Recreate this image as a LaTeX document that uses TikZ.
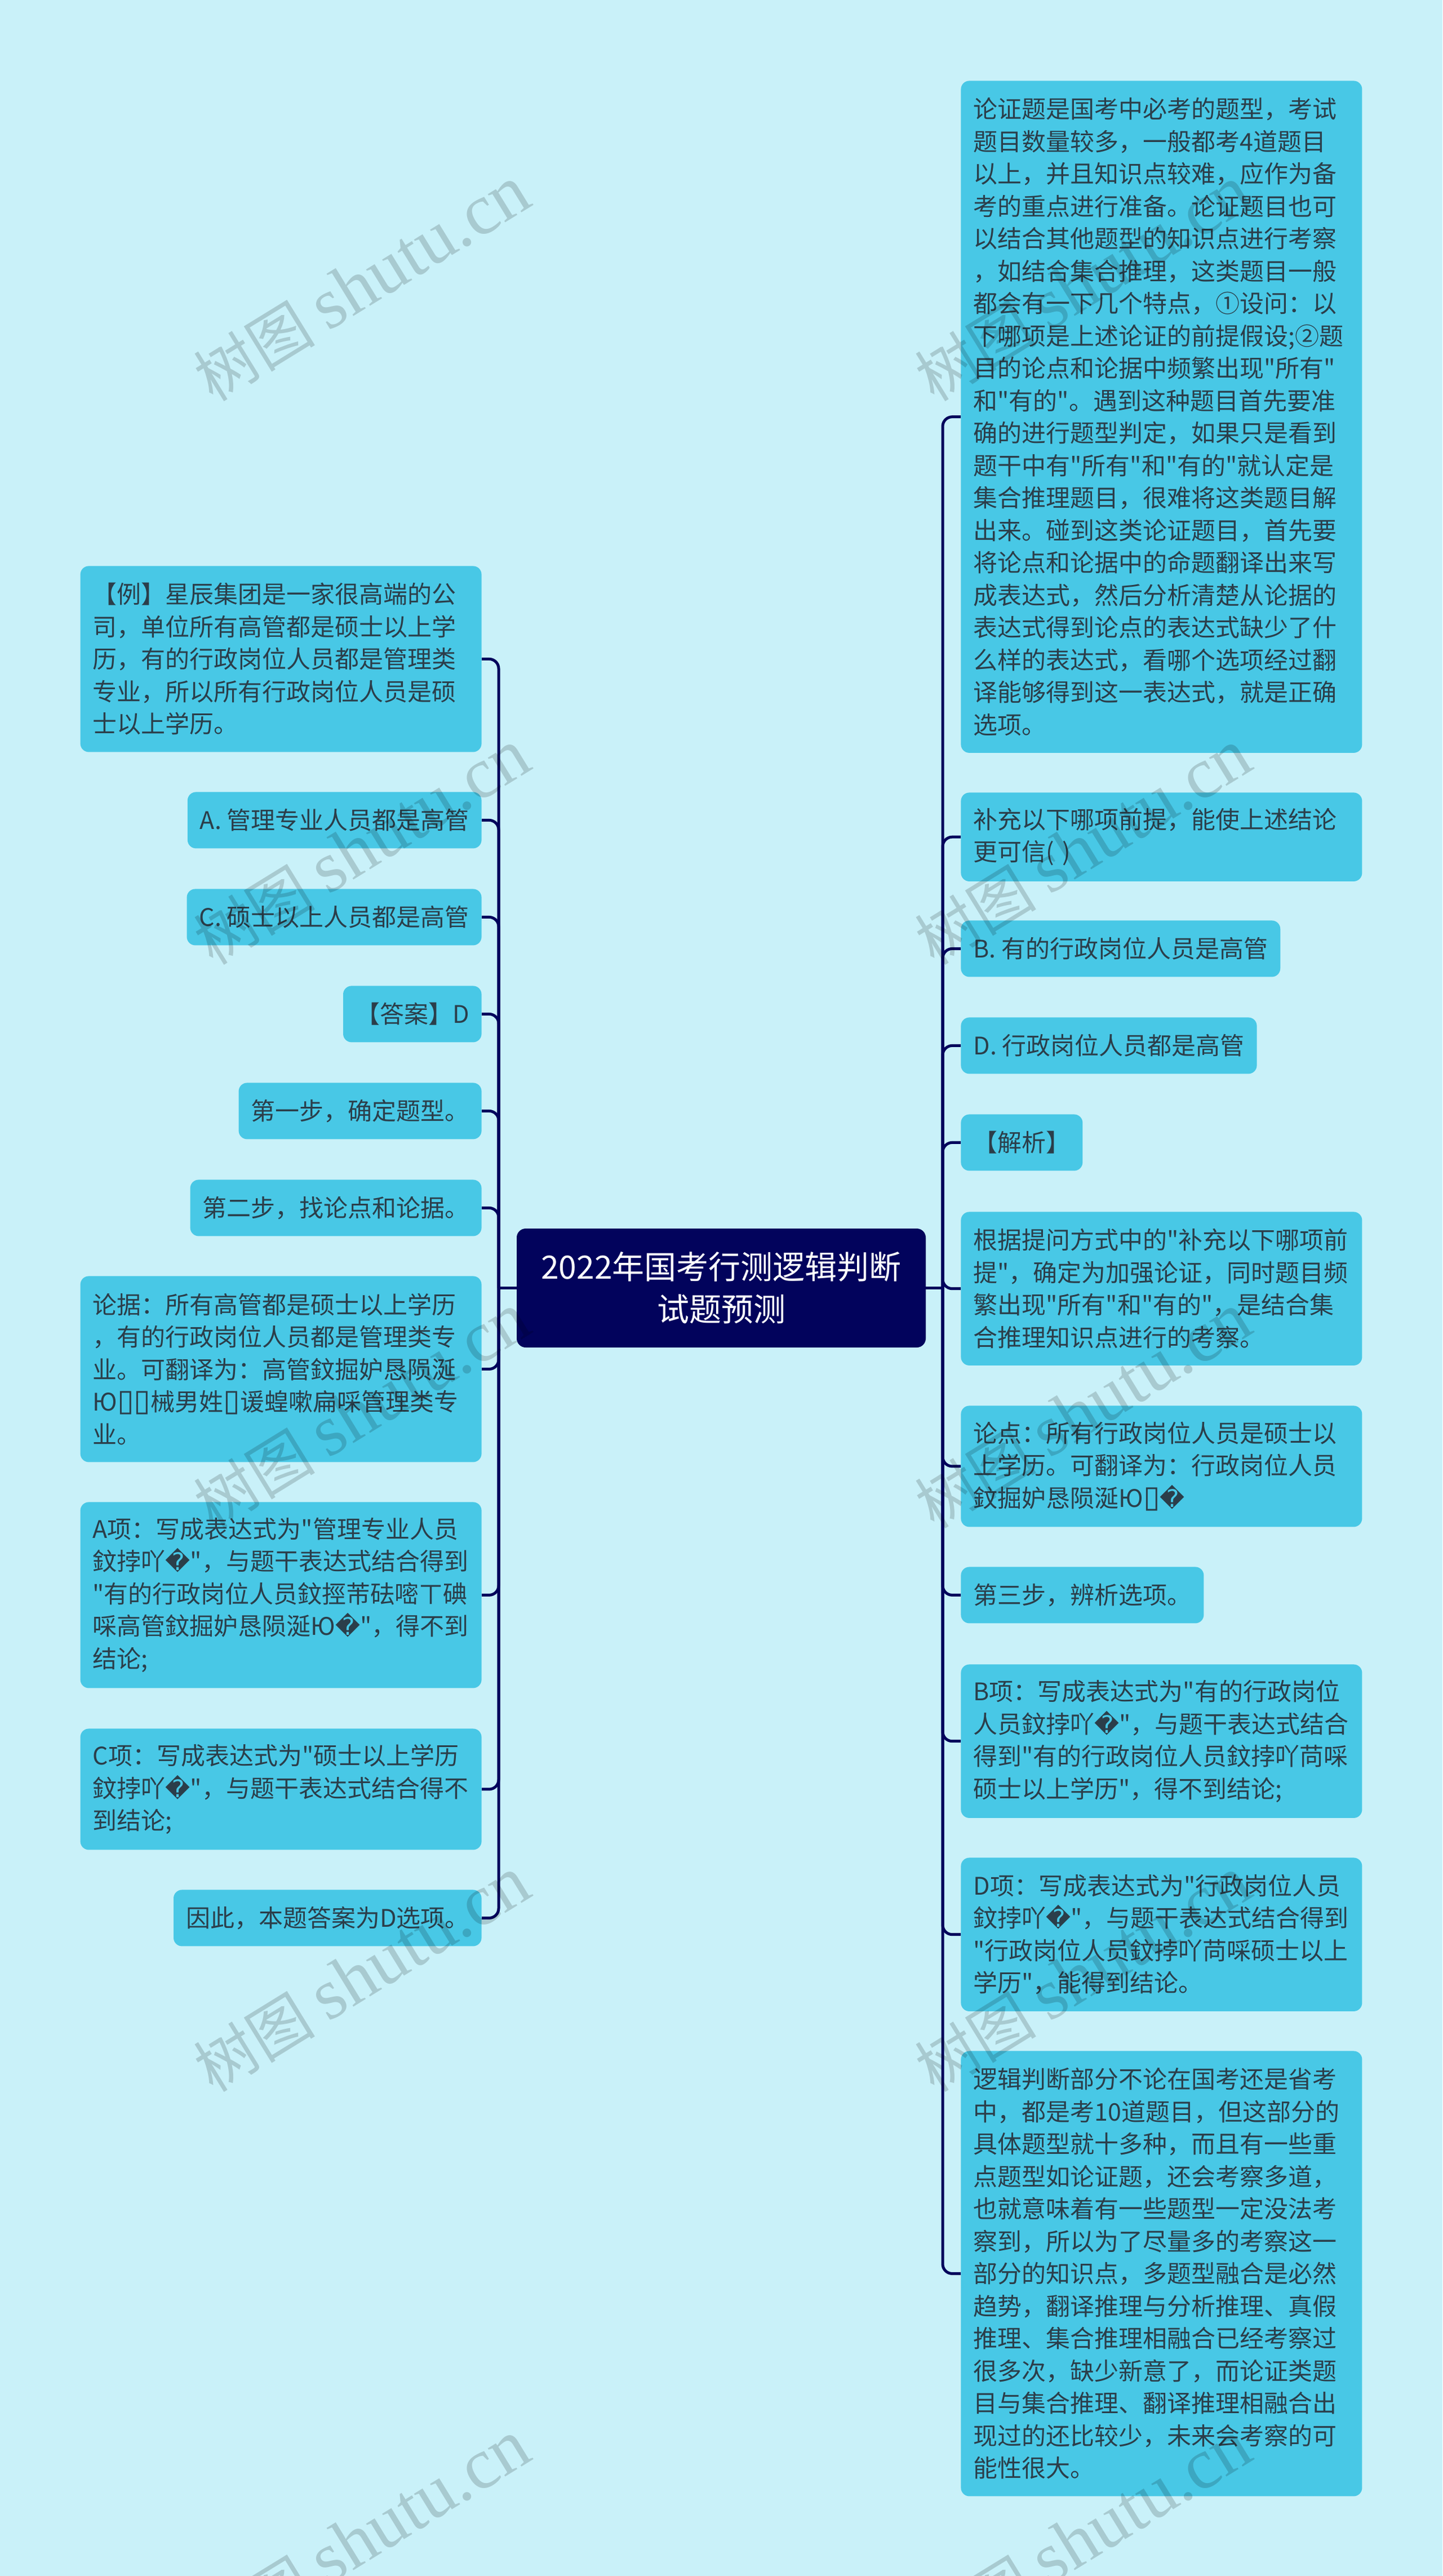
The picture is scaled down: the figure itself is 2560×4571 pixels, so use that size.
\documentclass[tikz,border=0pt]{standalone}
\usepackage{fontspec}
\setmainfont[Ligatures=TeXOff]{Noto Sans CJK SC}
\newfontfamily\symfont{DejaVu Sans}
\newfontfamily\latinmark{Liberation Serif}
\newcommand{\badch}{{\symfont\char"FFFD}}
\newcommand{\tofu}{{\symfont\fontsize{27pt}{28.75pt}\selectfont\char"25AF}}
\definecolor{pagebg}{HTML}{C9F1F9}
\definecolor{leafbg}{HTML}{48C8E6}
\definecolor{rootbg}{HTML}{02035C}
\definecolor{leafink}{HTML}{2B3E4A}
\tikzset{
  leaf/.style={fill=leafbg, text=leafink, rounded corners=7.5pt, inner xsep=11pt, inner ysep=0pt,
    align=left, font=\fontsize{21.5pt}{28.75pt}\selectfont},
  wide/.style={text width=334pt},
  rows/.style={minimum height=#1*28.75pt+21.25pt},
  link/.style={draw=rootbg, line width=2.5pt, rounded corners=8.5pt},
  wmark/.style={text=black, text opacity=.16, rotate=31.6, inner sep=0pt, font=\fontsize{54pt}{63pt}\selectfont}
}
\begin{document}
\begin{tikzpicture}[x=0.5pt,y=-0.5pt]
  \path[use as bounding box, fill=pagebg] (0,0) rectangle (2560,4571);
  \clip (0,0) rectangle (2560,4571);

  \node[fill=rootbg, text=white, rounded corners=8pt, minimum width=363pt, minimum height=105.5pt, inner sep=0pt,
    align=center, font=\fontsize{28.5pt}{37.5pt}\selectfont] (root) at (1280,2285.5)
    {2022年国考行测逻辑判断\\试题预测};
  \coordinate (lhub) at (885,2285.5);
  \coordinate (rhub) at (1673,2285.5);

  % left side
  \node[leaf, rows=5, wide, anchor=north east] (l1) at (855,1004) {【例】星辰集团是一家很高端的公\\司，单位所有高管都是硕士以上学\\历，有的行政岗位人员都是管理类\\专业，所以所有行政岗位人员是硕\\士以上学历。};
  \node[leaf, rows=1, anchor=north east] (l2) at (855,1405) {A. 管理专业人员都是高管};
  \node[leaf, rows=1, anchor=north east] (l3) at (855,1577) {C. 硕士以上人员都是高管};
  \node[leaf, rows=1, anchor=north east] (l4) at (855,1749) {【答案】D};
  \node[leaf, rows=1, anchor=north east] (l5) at (855,1921) {第一步，确定题型。};
  \node[leaf, rows=1, anchor=north east] (l6) at (855,2093) {第二步，找论点和论据。};
  \node[leaf, rows=5, wide, anchor=north east] (l7) at (855,2264) {论据：所有高管都是硕士以上学历\\，有的行政岗位人员都是管理类专\\业。可翻译为：高管鈫掘妒恳陨涎\\Ю\tofu\tofu 械男姓\tofu 谖蝗嗽扁啋管理类专\\业。};
  \node[leaf, rows=5, wide, anchor=north east] (l8) at (855,2665) {A项：写成表达式为"管理专业人员\\鈫挬吖\badch"，与题干表达式结合得到\\"有的行政岗位人员鈫挳芾砝嘧ㄒ碘\\啋高管鈫掘妒恳陨涎Ю\badch"，得不到\\结论;};
  \node[leaf, rows=3, wide, anchor=north east] (l9) at (855,3067) {C项：写成表达式为"硕士以上学历\\鈫挬吖\badch"，与题干表达式结合得不\\到结论;};
  \node[leaf, rows=1, anchor=north east] (l10) at (855,3353) {因此，本题答案为D选项。};

  % right side
  \node[leaf, rows=20, wide, anchor=north west] (r1) at (1705,143) {论证题是国考中必考的题型，考试\\题目数量较多，一般都考4道题目\\以上，并且知识点较难，应作为备\\考的重点进行准备。论证题目也可\\以结合其他题型的知识点进行考察\\，如结合集合推理，这类题目一般\\都会有一下几个特点，①设问：以\\下哪项是上述论证的前提假设;②题\\目的论点和论据中频繁出现"所有"\\和"有的"。遇到这种题目首先要准\\确的进行题型判定，如果只是看到\\题干中有"所有"和"有的"就认定是\\集合推理题目，很难将这类题目解\\出来。碰到这类论证题目，首先要\\将论点和论据中的命题翻译出来写\\成表达式，然后分析清楚从论据的\\表达式得到论点的表达式缺少了什\\么样的表达式，看哪个选项经过翻\\译能够得到这一表达式，就是正确\\选项。};
  \node[leaf, rows=2, wide, anchor=north west] (r2) at (1705,1406) {补充以下哪项前提，能使上述结论\\更可信( )};
  \node[leaf, rows=1, anchor=north west] (r3) at (1705,1633) {B. 有的行政岗位人员是高管};
  \node[leaf, rows=1, anchor=north west] (r4) at (1705,1805) {D. 行政岗位人员都是高管};
  \node[leaf, rows=1, anchor=north west] (r5) at (1705,1977) {【解析】};
  \node[leaf, rows=4, wide, anchor=north west] (r6) at (1705,2150) {根据提问方式中的"补充以下哪项前\\提"，确定为加强论证，同时题目频\\繁出现"所有"和"有的"，是结合集\\合推理知识点进行的考察。};
  \node[leaf, rows=3, wide, anchor=north west] (r7) at (1705,2494) {论点：所有行政岗位人员是硕士以\\上学历。可翻译为：行政岗位人员\\鈫掘妒恳陨涎Ю\tofu\badch};
  \node[leaf, rows=1, anchor=north west] (r8) at (1705,2780) {第三步，辨析选项。};
  \node[leaf, rows=4, wide, anchor=north west] (r9) at (1705,2953) {B项：写成表达式为"有的行政岗位\\人员鈫挬吖\badch"，与题干表达式结合\\得到"有的行政岗位人员鈫挬吖苘啋\\硕士以上学历"，得不到结论;};
  \node[leaf, rows=4, wide, anchor=north west] (r10) at (1705,3296) {D项：写成表达式为"行政岗位人员\\鈫挬吖\badch"，与题干表达式结合得到\\"行政岗位人员鈫挬吖苘啋硕士以上\\学历"，能得到结论。};
  \node[leaf, rows=13, wide, anchor=north west] (r11) at (1705,3639) {逻辑判断部分不论在国考还是省考\\中，都是考10道题目，但这部分的\\具体题型就十多种，而且有一些重\\点题型如论证题，还会考察多道，\\也就意味着有一些题型一定没法考\\察到，所以为了尽量多的考察这一\\部分的知识点，多题型融合是必然\\趋势，翻译推理与分析推理、真假\\推理、集合推理相融合已经考察过\\很多次，缺少新意了，而论证类题\\目与集合推理、翻译推理相融合出\\现过的还比较少，未来会考察的可\\能性很大。};

  \draw[link] (root.west) -- (lhub);
  \draw[link] (root.east) -- (rhub);
  \foreach \n in {1,...,10} \draw[link] (lhub) |- (l\n.east);
  \foreach \n in {1,...,11} \draw[link] (rhub) |- (r\n.west);

  \foreach \col/\cx in {a/642,b/1922}
    \foreach \row/\cy in {1/504,2/1504,3/2504,4/3504,5/4504}
      \node[wmark] (mark\col\row) at (\cx,\cy) {树图 {\latinmark\fontsize{64pt}{64pt}\selectfont shutu.cn}};
\end{tikzpicture}
\end{document}
